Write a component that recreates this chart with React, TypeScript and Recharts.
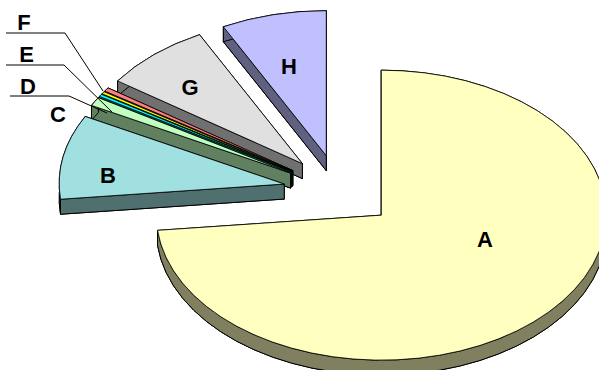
import React from "react";
import { PieChart, Pie } from "recharts";

const categories = ["A", "B", "C", "D", "E", "F", "G", "H"];
const values = [73.33, 9.39, 0.98, 0.27, 0.27, 0.42, 7.78, 7.56];
const topColors = ["#FFFFC0", "#A0E0E0", "#C0FFC0", "#00FFFF", "#FFFF00", "#FF8080", "#E0E0E0", "#C0C0FF"];
const wallColors = ["#808060", "#507070", "#608060", "#008080", "#808000", "#804040", "#707070", "#606080"];

const RX = 225;
const RY = 145;
const DEPTH = 15;
const EXPLODE = 0.25;

const labelCenters: Record<string, [number, number]> = {
  A: [485, 239.5], B: [108, 175], C: [58, 114.5], D: [28, 86.5],
  E: [26.5, 54], F: [24, 22.5], G: [190, 87], H: [289, 66],
};
const leaders: Record<string, [number, number][]> = {
  D: [[10, 96], [69, 96], [107, 113]],
  E: [[6, 65], [64, 65], [112, 112]],
  F: [[6, 33], [65, 33], [103, 91]],
};

// Drawn back to front: the last slice listed is painted last.
const rows = categories
  .map((name, i) => ({ name, value: values[i], fill: topColors[i], wall: wallColors[i] }))
  .reverse();

const rad = (d: number) => (d * Math.PI) / 180;

function Slice3D(props: any) {
  const { cx, cy, startAngle, endAngle, payload } = props;
  const row = payload ?? props;
  const a1 = Math.min(startAngle, endAngle);
  const a2 = Math.max(startAngle, endAngle);
  const mid = rad((a1 + a2) / 2);
  const ox = cx + EXPLODE * RX * Math.cos(mid);
  const oy = cy - EXPLODE * RY * Math.sin(mid);
  const pt = (a: number, dz = 0): [number, number] => [
    ox + RX * Math.cos(rad(a)),
    oy - RY * Math.sin(rad(a)) + dz,
  ];
  const large = a2 - a1 > 180 ? 1 : 0;
  const sector = (dz: number) => {
    const [x1, y1] = pt(a1, dz);
    const [x2, y2] = pt(a2, dz);
    return `M${ox},${oy + dz}L${x1},${y1}A${RX},${RY} 0 ${large} 0 ${x2},${y2}Z`;
  };
  const [s0x, s0y] = pt(a1);
  const [e0x, e0y] = pt(a2);
  const band = `M${s0x},${s0y}A${RX},${RY} 0 ${large} 0 ${e0x},${e0y}L${e0x},${e0y + DEPTH}A${RX},${RY} 0 ${large} 1 ${s0x},${s0y + DEPTH}Z`;
  const edge1 = `M${ox},${oy}L${s0x},${s0y}L${s0x},${s0y + DEPTH}L${ox},${oy + DEPTH}Z`;
  const edge2 = `M${ox},${oy}L${e0x},${e0y}L${e0x},${e0y + DEPTH}L${ox},${oy + DEPTH}Z`;
  const wallStyle = { fill: row.wall, stroke: "#000", strokeWidth: 1, strokeLinejoin: "round" as const };
  return (
    <g>
      <path d={sector(DEPTH)} {...wallStyle} />
      <path d={edge1} {...wallStyle} />
      <path d={edge2} {...wallStyle} />
      <path d={band} {...wallStyle} />
      <path d={sector(0)} fill={row.fill} stroke="#000" strokeWidth={0.8} strokeLinejoin="round" />
    </g>
  );
}

function SliceLabel(props: any) {
  const name: string = props.name ?? props.payload?.name;
  const [x, y] = labelCenters[name];
  const line = leaders[name];
  return (
    <g>
      {line && (
        <>
          <line x1={line[0][0]} y1={line[0][1]} x2={line[1][0]} y2={line[1][1]} stroke="#000" strokeWidth={1} />
          <line x1={line[1][0]} y1={line[1][1]} x2={line[2][0]} y2={line[2][1]} stroke="#000" strokeWidth={1} />
        </>
      )}
      <text
        x={x}
        y={y}
        textAnchor="middle"
        dominantBaseline="central"
        fontFamily="'Liberation Sans', Arial, sans-serif"
        fontWeight="bold"
        fontSize={22}
        fill="#000"
      >
        {name}
      </text>
    </g>
  );
}

export default function App() {
  return (
    <div style={{ position: "absolute", left: 0, top: 0, width: 599, height: 370, overflow: "hidden", background: "#fff" }}>
      <PieChart width={599} height={370} margin={{ top: 0, right: 0, bottom: 0, left: 0 }}>
        <Pie
          data={rows}
          dataKey="value"
          nameKey="name"
          cx={339.5}
          cy={190.9}
          innerRadius={0}
          outerRadius={RX}
          startAngle={-270}
          endAngle={90}
          isAnimationActive={false}
          shape={Slice3D}
          label={SliceLabel}
          labelLine={false}
        />
      </PieChart>
    </div>
  );
}
